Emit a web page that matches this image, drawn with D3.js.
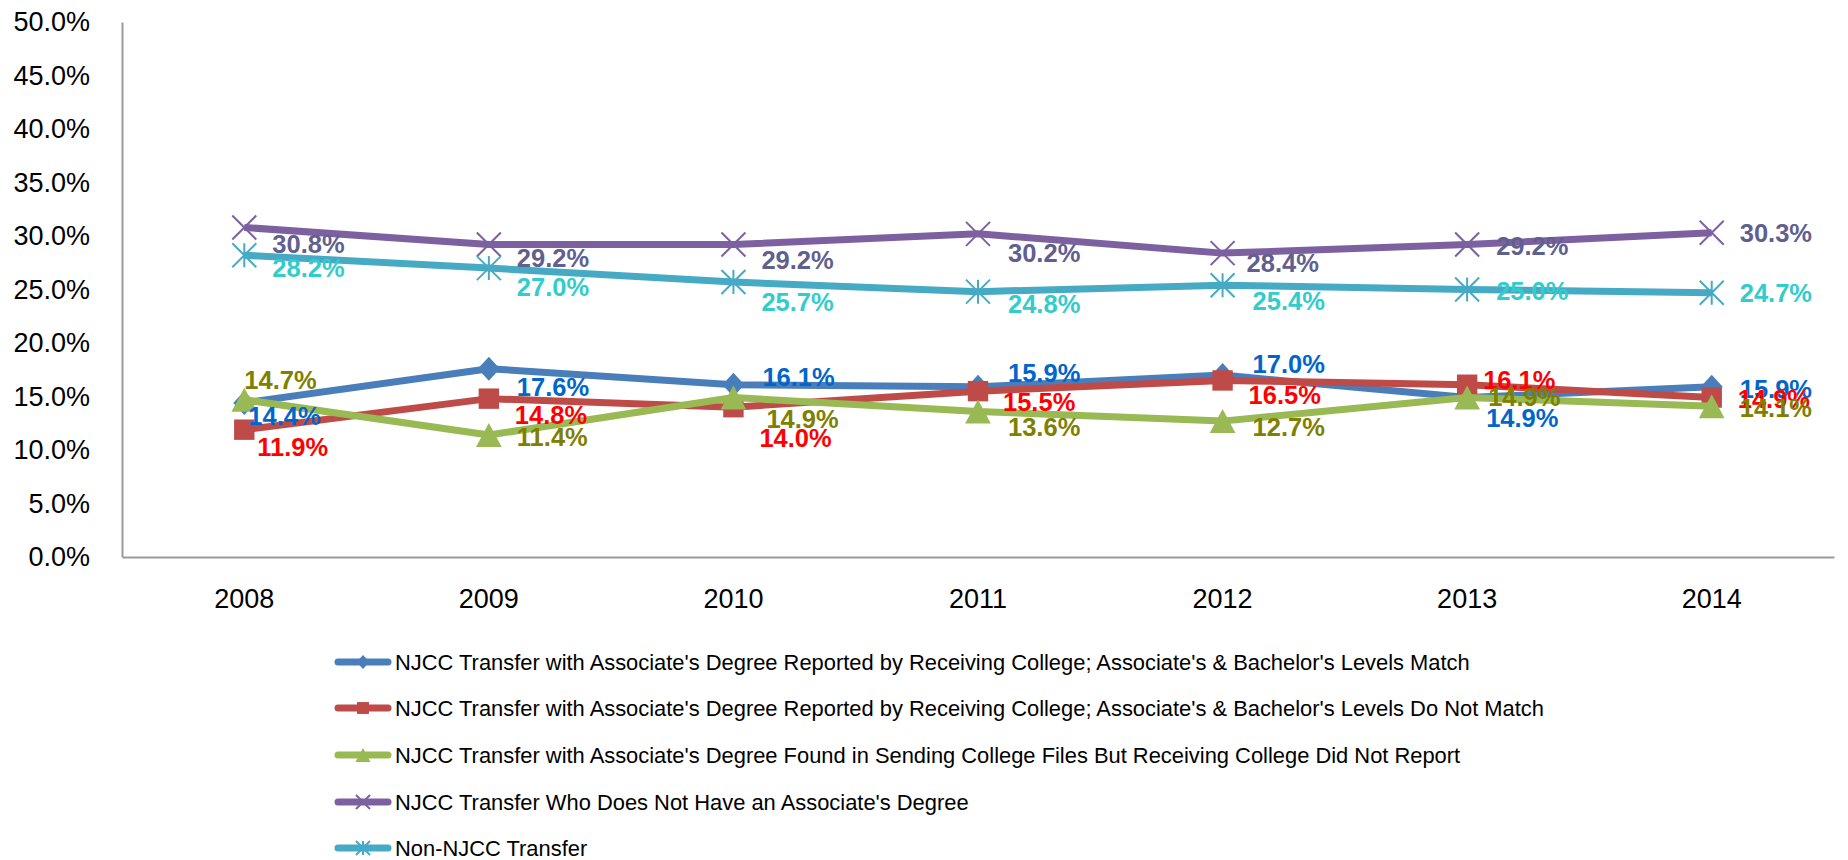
<!DOCTYPE html>
<html>
<head>
<meta charset="utf-8">
<script src="https://cdn.jsdelivr.net/npm/d3@7"></script>
<style>
  body { margin: 0; background: #fff; }
  text { font-family: "Liberation Sans", Arial, sans-serif; }
</style>
</head>
<body>
<div id="chart"></div>
<script>
// categories and series values (percent)
var years = ["2008", "2009", "2010", "2011", "2012", "2013", "2014"];
var yTicks = [0, 5, 10, 15, 20, 25, 30, 35, 40, 45, 50];

var seriesNames = [
  "NJCC Transfer with Associate's Degree Reported by Receiving College; Associate's & Bachelor's Levels Match",
  "NJCC Transfer with Associate's Degree Reported by Receiving College; Associate's & Bachelor's Levels Do Not Match",
  "NJCC Transfer with Associate's Degree Found in Sending College Files But Receiving College Did Not Report",
  "NJCC Transfer Who Does Not Have an Associate's Degree",
  "Non-NJCC Transfer"
];

var levelsMatch    = [14.4, 17.6, 16.1, 15.9, 17.0, 14.9, 15.9];
var levelsNoMatch  = [11.9, 14.8, 14.0, 15.5, 16.5, 16.1, 14.9];
var sendingOnly    = [14.7, 11.4, 14.9, 13.6, 12.7, 14.9, 14.1];
var noAssociate    = [30.8, 29.2, 29.2, 30.2, 28.4, 29.2, 30.3];
var nonNjcc        = [28.2, 27.0, 25.7, 24.8, 25.4, 25.0, 24.7];

// label nudges [dx, dy] from each point (labels were hand placed in the original)
var labelNudge = [
  [[4, 13], [28, 18], [29, -8], [30, -14], [30, -11], [19, 20], [28, 2]],
  [[13, 17], [26, 16], [26, 31], [25, 11], [26, 14], [16, -5], [26, 1]],
  [[0, -20], [28, 2], [33, 21], [30, 15], [30, 6], [21, -1], [28, 2]],
  [[28, 16], [28, 13], [28, 15], [30, 19], [24, 10], [29, 1], [28, 0]],
  [[28, 13], [28, 19], [28, 20], [30, 12], [30, 16], [29, 1], [28, 0]]
];

var lineColors  = ["#4A7EBB", "#BE4B48", "#98B954", "#7D60A0", "#46AAC5"];
var labelColors = ["#0066CC", "#FF0000", "#808000", "#60608F", "#33CCCC"];
var markers     = ["diamond", "square", "triangle", "x", "asterisk"];

var allValues = [levelsMatch, levelsNoMatch, sendingOnly, noAssociate, nonNjcc];

// svg settings
var svgWidth = 1848;
var svgHeight = 860;

var plot = { left: 122, right: 1834, top: 22, bottom: 557 };

var svg = d3.select("#chart")
  .append("svg")
  .attr("width", svgWidth)
  .attr("height", svgHeight);

var xScale = d3.scaleBand()
  .domain(years)
  .range([plot.left, plot.right]);

var yScale = d3.scaleLinear()
  .domain([0, 50])
  .range([plot.bottom, plot.top]);

var xPos = function(d) { return xScale(d) + xScale.bandwidth() / 2; };

/************************************************************
 * AXES
 ************************************************************/
var leftAxis = d3.axisLeft(yScale)
  .tickValues(yTicks)
  .tickSize(0)
  .tickPadding(32)
  .tickFormat(function(d) { return d3.format(".1f")(d) + "%"; });

var yAxis = svg.append("g")
  .attr("transform", `translate(${plot.left}, 0)`)
  .call(leftAxis);

var bottomAxis = d3.axisBottom(xScale).tickSize(0).tickPadding(35);

var xAxis = svg.append("g")
  .attr("transform", `translate(0, ${plot.bottom})`)
  .call(bottomAxis);

[yAxis, xAxis].forEach(function(ax) {
  ax.select(".domain").attr("stroke", "#9A9A9A").attr("stroke-width", 2);
  ax.selectAll("text")
    .attr("fill", "#000")
    .style("font-size", "27px")
    .style("font-family", "'Liberation Sans', Arial, sans-serif");
});
xAxis.selectAll("text").attr("dy", "0.6em");

/************************************************************
 * MARKERS
 ************************************************************/
function drawMarker(g, type, color, s) {
  if (type === "diamond") {
    g.append("path")
      .attr("d", `M0,${-s}L${s * 0.92},0L0,${s}L${-s * 0.92},0Z`)
      .attr("fill", color);
  } else if (type === "square") {
    g.append("rect")
      .attr("x", -s * 0.85).attr("y", -s * 0.85)
      .attr("width", s * 1.7).attr("height", s * 1.7)
      .attr("fill", color);
  } else if (type === "triangle") {
    g.append("path")
      .attr("d", `M0,${-s}L${s * 1.07},${s}L${-s * 1.07},${s}Z`)
      .attr("fill", color);
  } else {
    var x = s;
    g.append("path")
      .attr("d", `M${-x},${-x}L${x},${x}M${-x},${x}L${x},${-x}` +
        (type === "asterisk" ? `M0,${-x}L0,${x}` : ""))
      .attr("stroke", color)
      .attr("stroke-width", 2)
      .attr("fill", "none");
  }
}

/************************************************************
 * LINES
 ************************************************************/
var line = d3.line()
  .x(function(d, i) { return xPos(years[i]); })
  .y(function(d) { return yScale(d); });

allValues.forEach(function(vals, si) {
  svg.append("path")
    .datum(vals)
    .attr("d", line)
    .attr("fill", "none")
    .attr("stroke", lineColors[si])
    .attr("stroke-width", 7)
    .attr("stroke-linejoin", "round");

  vals.forEach(function(v, i) {
    var g = svg.append("g")
      .attr("transform", `translate(${xPos(years[i])}, ${yScale(v)})`);
    drawMarker(g, markers[si], lineColors[si], 12);
  });
});

// data labels on top
allValues.forEach(function(vals, si) {
  svg.append("g")
    .selectAll("text")
    .data(vals)
    .enter()
    .append("text")
    .attr("x", function(d, i) { return xPos(years[i]) + labelNudge[si][i][0]; })
    .attr("y", function(d, i) { return yScale(d) + labelNudge[si][i][1]; })
    .attr("dy", "0.36em")
    .attr("fill", labelColors[si])
    .style("font-size", "25.5px")
    .style("font-weight", "bold")
    .text(function(d) { return d.toFixed(1) + "%"; });
});

/************************************************************
 * LEGEND
 ************************************************************/
var legendY = [662, 708, 755, 802, 848];

var legend = svg.append("g");

seriesNames.forEach(function(name, si) {
  var row = legend.append("g")
    .attr("transform", `translate(0, ${legendY[si]})`);

  row.append("line")
    .attr("x1", 338).attr("x2", 388)
    .attr("y1", 0).attr("y2", 0)
    .attr("stroke", lineColors[si])
    .attr("stroke-width", 7)
    .attr("stroke-linecap", "round");

  var m = row.append("g").attr("transform", "translate(363, 0)");
  drawMarker(m, markers[si], lineColors[si], 7);

  row.append("text")
    .attr("x", 395)
    .attr("y", 0)
    .attr("dy", "0.36em")
    .attr("fill", "#000")
    .style("font-size", "21.9px")
    .text(name);
});
</script>
</body>
</html>
